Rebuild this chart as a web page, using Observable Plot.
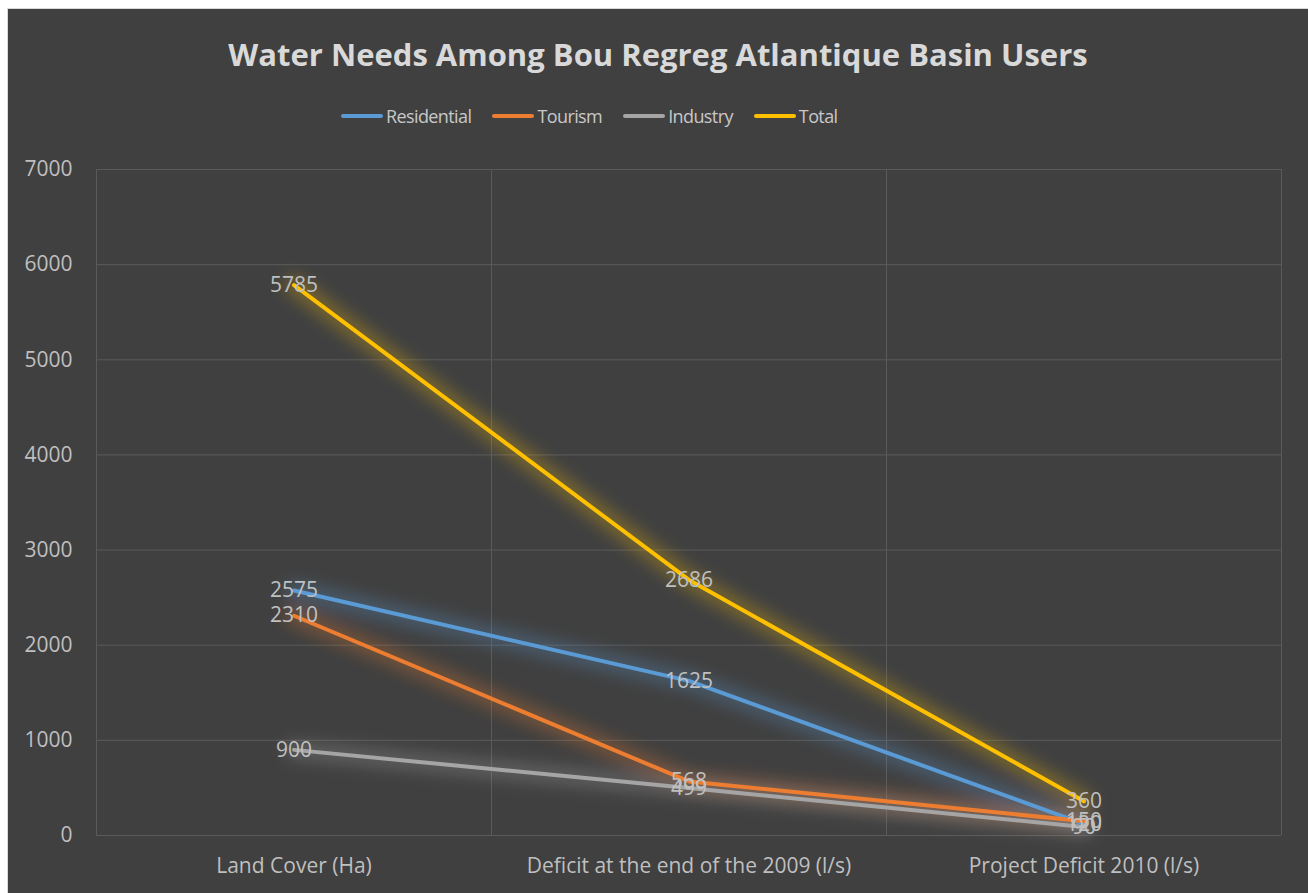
<!DOCTYPE html>
<html>
<head>
<meta charset="utf-8">
<script src="https://cdn.jsdelivr.net/npm/d3@7"></script>
<script src="https://cdn.jsdelivr.net/npm/@observablehq/plot@0.6"></script>
<style>
  html, body { margin: 0; padding: 0; background: #ffffff; width: 1308px; height: 893px; overflow: hidden; }
  #frame { position: absolute; left: 7px; top: 8px; width: 1310px; height: 900px; background: #404040; border-left: 1px solid #d9d9d9; border-top: 1px solid #d9d9d9; }
  #title { position: absolute; left: 0; top: 34px; width: 1316px; text-align: center; font-family: "Open Sans", sans-serif; font-weight: 700; font-size: 31px; line-height: 40px; color: #d9d9d9; }
  #legend { position: absolute; left: 341px; top: 104px; display: flex; font-family: "Open Sans", sans-serif; font-size: 18px; letter-spacing: -0.6px; line-height: 24px; color: #c8c8c8; }
  .item { display: flex; align-items: center; margin-right: 21px; }
  .sw { width: 42px; height: 4px; border-radius: 2px; margin-right: 3px; }
  #plot { position: absolute; left: 0; top: 140px; }
</style>
</head>
<body>
<div id="frame"></div>
<div id="title"></div>
<div id="legend"></div>
<div id="plot"></div>
<script>
const title = "Water Needs Among Bou Regreg Atlantique Basin Users";
const categories = ["Land Cover (Ha)", "Deficit at the end of the 2009 (l/s)", "Project Deficit 2010 (l/s)"];
const seriesNames = ["Residential", "Tourism", "Industry", "Total"];
const residential = [2575, 1625, 120];
const tourism = [2310, 568, 150];
const industry = [900, 499, 90];
const total = [5785, 2686, 360];
const colors = ["#5b9bd5", "#ed7d31", "#a5a5a5", "#ffc000"];
const yTicks = [0, 1000, 2000, 3000, 4000, 5000, 6000, 7000];

const seriesValues = [residential, tourism, industry, total];
const data = [];
seriesNames.forEach((s, si) => {
  seriesValues[si].forEach((v, ci) => data.push({series: s, cat: ci + 0.5, value: v}));
});

document.getElementById("title").textContent = title;
const legend = document.getElementById("legend");
seriesNames.forEach((s, i) => {
  const it = document.createElement("div");
  it.className = "item";
  it.innerHTML = `<div class="sw" style="background:${colors[i]}"></div><span>${s}</span>`;
  legend.appendChild(it);
});

const colorScale = {domain: seriesNames, range: colors};

const chart = Plot.plot({
  width: 1308,
  height: 753,
  marginLeft: 96,
  marginRight: 27,
  marginTop: 29,
  marginBottom: 58,
  style: {background: "transparent", fontFamily: "Open Sans, sans-serif", fontSize: "21px", color: "#bfbfbf"},
  x: {domain: [0, 3], ticks: categories.map((c, i) => i + 0.5), tickFormat: d => categories[Math.floor(d)], tickSize: 0, tickPadding: 23, label: null},
  y: {domain: [0, 7000], ticks: yTicks, tickFormat: d => String(d), tickSize: 0, tickPadding: 24, label: null},
  color: colorScale,
  marks: [
    Plot.ruleY(yTicks, {stroke: "#5a5a5a", strokeWidth: 1}),
    Plot.ruleX([0, 1, 2, 3], {stroke: "#5a5a5a", strokeWidth: 1}),
    Plot.line(data, {x: "cat", y: "value", z: "series", stroke: "series", strokeWidth: 18, strokeOpacity: 0.3, ariaDescription: "glow"}),
    Plot.line(data, {x: "cat", y: "value", z: "series", stroke: "series", strokeWidth: 4}),
    Plot.text(data, {x: "cat", y: "value", text: d => String(d.value), fill: "#c0c0c0", fontSize: 21, textAnchor: "middle"})
  ]
});

const svg = d3.select(chart);
const defs = svg.insert("defs", ":first-child");
defs.append("filter").attr("id", "glow").attr("x", "-20%").attr("y", "-20%").attr("width", "140%").attr("height", "140%")
  .append("feGaussianBlur").attr("stdDeviation", 8);
svg.selectAll("g[aria-description='glow']").attr("filter", "url(#glow)");

document.getElementById("plot").appendChild(chart);
</script>
</body>
</html>
